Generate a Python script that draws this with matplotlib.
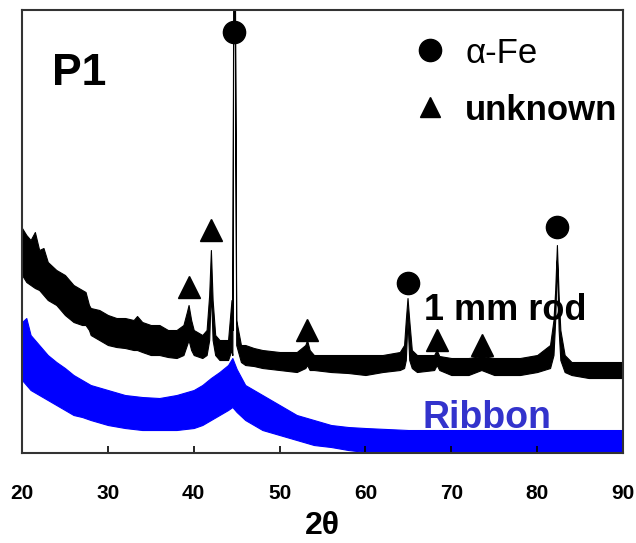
import matplotlib
matplotlib.use("Agg")
import matplotlib.pyplot as plt

# intensity in arbitrary units (0 = bottom of frame, 443 = top)
rod_x = [20.0, 20.5, 21.0, 21.5, 22.0, 22.5, 23.0, 24.0, 25.0, 26.0, 27.0, 27.4, 27.8, 28.0,
         29.0, 30.0, 31.0, 32.0, 33.0, 33.4, 34.0, 35.0, 36.0, 37.0, 38.0, 38.8, 39.2, 39.4,
         39.7, 40.0, 41.0, 41.5, 41.8, 42.0, 42.2, 42.5, 43.0, 44.0, 44.4, 44.5, 44.6, 44.8,
         44.95, 45.5, 46.0, 47.0, 48.0, 50.0, 52.0, 53.0, 53.2, 53.5, 54.0, 56.0, 58.0, 60.0,
         62.0, 64.0, 64.5, 64.7, 64.9, 65.1, 65.4, 66.0, 68.0, 68.3, 68.6, 70.0, 72.0, 73.5,
         75.0, 78.0, 80.0, 81.5, 81.9, 82.1, 82.3, 82.5, 82.7, 83.2, 84.0, 86.0, 88.0, 90.0]
rod_hi = [225, 218, 213, 221, 203, 205, 191, 183, 178, 168, 163, 161, 148, 145,
          143, 138, 135, 135, 133, 137, 131, 128, 128, 123, 123, 128, 141, 148,
          133, 123, 118, 123, 158, 203, 153, 118, 113, 113, 153, 123, 473, 473,
          133, 108, 108, 105, 103, 101, 101, 108, 113, 103, 98, 98, 98, 98,
          98, 101, 108, 133, 155, 133, 103, 98, 98, 103, 97, 95, 95, 97,
          95, 95, 98, 108, 133, 163, 208, 158, 123, 98, 91, 91, 91, 91]
rod_lo = [178, 171, 168, 165, 163, 158, 153, 148, 138, 131, 128, 128, 123, 118,
          113, 108, 106, 105, 103, 103, 101, 98, 98, 96, 95, 98, 108, 113,
          103, 98, 95, 98, 113, 163, 113, 98, 93, 93, 103, 98, 423, 423,
          108, 91, 88, 87, 85, 83, 81, 85, 88, 83, 83, 81, 80, 78,
          81, 83, 85, 93, 133, 93, 85, 81, 83, 88, 83, 78, 78, 83,
          78, 78, 81, 85, 98, 133, 193, 123, 93, 81, 78, 75, 75, 75]

ribbon_x = [20.0, 20.5, 21.0, 22.0, 23.0, 24.0, 25.0, 26.0, 27.0, 28.0, 30.0, 32.0, 34.0,
            36.0, 38.0, 40.0, 41.0, 42.0, 43.0, 44.0, 44.5, 45.0, 46.0, 47.0, 48.0, 50.0,
            52.0, 54.0, 56.0, 58.0, 60.0, 65.0, 70.0, 75.0, 80.0, 85.0, 90.0]
ribbon_hi = [131, 135, 118, 108, 98, 91, 85, 78, 73, 68, 63, 58, 56,
             55, 58, 63, 68, 75, 81, 88, 95, 84, 68, 63, 58, 48,
             38, 33, 28, 26, 25, 23, 23, 23, 23, 23, 23]
ribbon_lo = [73, 68, 63, 58, 53, 48, 43, 38, 36, 33, 28, 25, 23,
             23, 23, 25, 28, 33, 38, 43, 46, 41, 33, 28, 23, 18,
             13, 8, 6, 3, 1, 0, 0, 0, 0, 0, 0]

fe_peaks = [(44.7, 421), (64.9, 170), (82.3, 226)]
unknown_peaks = [(42.0, 223), (39.4, 166), (53.2, 123), (68.3, 113), (73.6, 108)]

plt.rcParams['font.family'] = ['Liberation Sans', 'DejaVu Sans']

fig = plt.figure(figsize=(6.36, 5.43), dpi=100)
ax = fig.add_axes([0.0346, 0.1657, 0.945, 0.8159])

ax.fill_between(rod_x, rod_lo, rod_hi, color='black', lw=0.8)
ax.fill_between(ribbon_x, ribbon_lo, ribbon_hi, color='#0000ff', lw=0.8)

for x, y in fe_peaks:
    ax.plot(x, y, 'o', color='black', ms=16, clip_on=False)
for x, y in unknown_peaks:
    ax.plot(x, y, '^', color='black', ms=16, clip_on=False)

# legend drawn as text
ax.plot(67.5, 403, 'o', color='black', ms=16)
ax.plot(67.5, 346, '^', color='black', ms=14)
ax.text(71.6, 390, 'α-Fe', fontsize=25)
ax.text(71.6, 333, 'unknown', fontsize=25, fontweight='bold', clip_on=False)

ax.text(23.5, 368, 'P1', fontsize=32, fontweight='bold')
ax.text(66.8, 133, '1 mm rod', fontsize=26, fontweight='bold')
ax.text(66.7, 25, 'Ribbon', fontsize=27, fontweight='bold', color='#3333cc')

ax.set_xlim(20, 90)
ax.set_ylim(0, 443)
ax.set_xticks(range(20, 91, 10))
ax.set_yticks([])
ax.tick_params(axis='x', direction='in', length=5, width=1.2, pad=22, labelsize=15)
for lab in ax.get_xticklabels():
    lab.set_fontweight('bold')
for s in ax.spines.values():
    s.set_linewidth(1.5)
    s.set_color('#333333')
ax.set_xlabel('2θ', fontsize=23, fontweight='bold', labelpad=6)

fig.savefig('out.png', dpi=100)
